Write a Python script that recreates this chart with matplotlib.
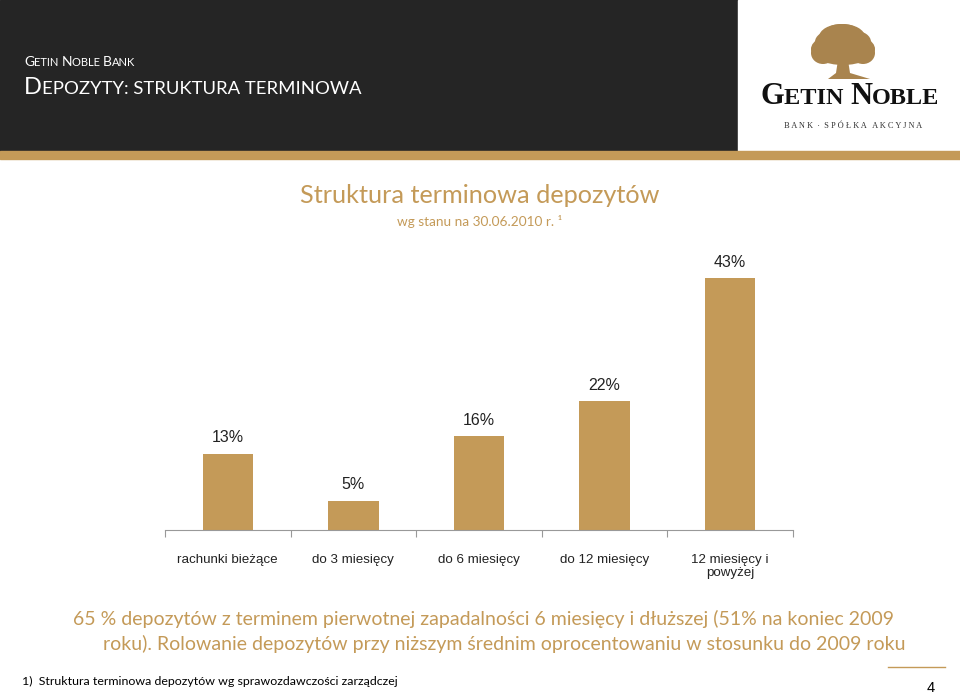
import matplotlib
matplotlib.use("Agg")
import matplotlib.pyplot as plt
from matplotlib.patches import Rectangle, Ellipse, Polygon
from matplotlib.offsetbox import TextArea, HPacker, AnnotationBbox

# dane
kategorie = ["rachunki bieżące", "do 3 miesięcy", "do 6 miesięcy", "do 12 miesięcy", "12 miesięcy i\npowyżej"]
udzialy = [13, 5, 16, 22, 43]
etykiety = ["13%", "5%", "16%", "22%", "43%"]

GOLD = "#C49A58"
DARK = "#252525"

fig = plt.figure(figsize=(9.6, 6.94), dpi=100)

# tło w pikselach
bg = fig.add_axes([0, 0, 1, 1])
bg.set_xlim(0, 960)
bg.set_ylim(694, 0)
bg.axis("off")
bg.add_patch(Rectangle((0, 0), 960, 151, color=DARK))
bg.add_patch(Rectangle((738, 0), 222, 151, color="white"))
bg.add_patch(Rectangle((0, 151), 960, 8, color=GOLD))


def small_caps(pieces, x, y, big, small, color, family, ha="left", weight="normal"):
    # kapitaliki: pieces = lista (tekst, duzy?)
    parts = []
    for t, duzy in pieces:
        parts.append(TextArea(t, textprops=dict(fontsize=big if duzy else small, color=color,
                                                family=family, weight=weight)))
    box = HPacker(children=parts, align="baseline", pad=0, sep=0)
    ab = AnnotationBbox(box, (x, y), xycoords="data", frameon=False,
                        box_alignment=(0 if ha == "left" else 0.5, 0), pad=0)
    bg.add_artist(ab)


small_caps([("G", 1), ("ETIN ", 0), ("N", 1), ("OBLE ", 0), ("B", 1), ("ANK", 0)],
           24, 68, 10, 8, "white", "Lato")
small_caps([("D", 1), ("EPOZYTY: STRUKTURA TERMINOWA", 0)], 24, 98, 17, 13.3, "white", "Lato")

# logo - drzewo
tree = "#A9844E"
for cx, cy, w, h in [(843, 49, 64, 32), (823, 53, 24, 22), (863, 53, 24, 22),
                     (842, 37, 46, 26), (830, 42, 30, 22), (856, 42, 30, 22), (842, 30, 30, 12)]:
    bg.add_patch(Ellipse((cx, cy), w, h, color=tree, lw=0))
bg.add_patch(Polygon([(838, 60), (848, 60), (850, 73), (870, 79), (828, 79), (836, 73)],
                     closed=True, color=tree, lw=0))
small_caps([("G", 1), ("ETIN ", 0), ("N", 1), ("OBLE", 0)], 850, 111, 22, 17.5, "#111111",
           "Liberation Serif", ha="center", weight="bold")
bg.text(853, 126, "B A N K  ·  S P Ó Ł K A   A K C Y J N A", fontsize=6, color="#333333",
        family="Liberation Serif", ha="center", va="center")

# tytuły
bg.text(480, 195, "Struktura terminowa depozytów", fontsize=18.2, color=GOLD,
        family="Lato", ha="center", va="center")
bg.text(480, 221, "wg stanu na 30.06.2010 r. ¹", fontsize=9.8, color=GOLD,
        family="Lato", ha="center", va="center")

# opis pod wykresem
bg.text(73, 619, "65 % depozytów z terminem pierwotnej zapadalności 6 miesięcy i dłuższej (51% na koniec 2009",
        fontsize=14.05, color=GOLD, family="Lato", ha="left", va="center")
bg.text(103, 644, "roku). Rolowanie depozytów przy niższym średnim oprocentowaniu w stosunku do 2009 roku",
        fontsize=14.05, color=GOLD, family="Lato", ha="left", va="center")
bg.text(22, 681, "1)  Struktura terminowa depozytów wg sprawozdawczości zarządczej",
        fontsize=8.9, color="black", family="Lato", ha="left", va="center")
bg.plot([888, 945], [667, 667], color=GOLD, lw=1)
bg.text(931, 688, "4", fontsize=10.5, color="black", family="Liberation Sans", ha="center", va="center")

# wykres
ymax = 45
px_per = 252 / 43
h = ymax * px_per
ax = fig.add_axes([165 / 960, (694 - 530) / 694, 628 / 960, h / 694])
x = range(len(kategorie))
ax.bar(x, udzialy, width=0.4, color=GOLD)
for xi, v, t in zip(x, udzialy, etykiety):
    ax.annotate(t, (xi, v), xytext=(0, 11.5), textcoords="offset points", ha="center", va="center",
                fontsize=11.5, family="Liberation Sans", color="#222222")
ax.set_xlim(-0.5, len(kategorie) - 0.5)
ax.set_ylim(0, ymax)
ax.patch.set_alpha(0)
for s in ["top", "right", "left"]:
    ax.spines[s].set_visible(False)
ax.spines["bottom"].set_color("#999999")
ax.set_yticks([])
ax.set_xticks([i - 0.5 for i in range(len(kategorie) + 1)], minor=False)
ax.set_xticklabels([""] * (len(kategorie) + 1))
ax.tick_params(axis="x", length=5, color="#999999")
ax.set_xticks(list(x), minor=True)
ax.set_xticklabels(kategorie, minor=True, fontsize=9.6, family="Liberation Sans", color="#222222")
ax.tick_params(axis="x", which="minor", length=0, pad=17)

fig.savefig("out.png", dpi=100)
